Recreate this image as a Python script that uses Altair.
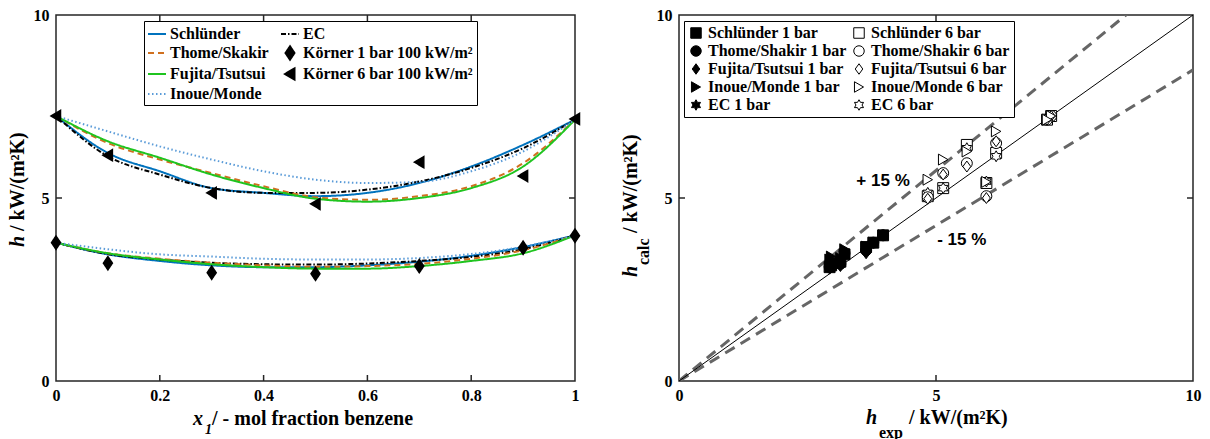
import altair as alt
import pandas as pd

# ---------------- left panel data ----------------
x_grid = [0.0, 0.1, 0.2, 0.3, 0.4, 0.5, 0.6, 0.7, 0.8, 0.9, 1.0]

schlunder_6 = [7.24, 6.23, 5.73, 5.27, 5.14, 5.05, 5.14, 5.41, 5.86, 6.45, 7.14]
ec_6 = [7.24, 6.14, 5.64, 5.27, 5.14, 5.14, 5.23, 5.45, 5.82, 6.36, 7.14]
thome_6 = [7.24, 6.50, 6.05, 5.68, 5.32, 5.02, 4.95, 5.05, 5.32, 5.95, 7.14]
fujita_6 = [7.24, 6.55, 6.10, 5.64, 5.27, 4.98, 4.90, 5.00, 5.27, 5.86, 7.14]
inoue_6 = [7.24, 6.82, 6.41, 6.05, 5.73, 5.50, 5.41, 5.44, 5.73, 6.27, 7.14]

schlunder_1 = [3.78, 3.46, 3.28, 3.16, 3.11, 3.11, 3.16, 3.26, 3.42, 3.66, 3.98]
ec_1 = [3.78, 3.47, 3.32, 3.23, 3.19, 3.18, 3.21, 3.28, 3.39, 3.60, 3.98]
thome_1 = [3.78, 3.49, 3.34, 3.23, 3.16, 3.12, 3.14, 3.20, 3.34, 3.57, 3.98]
fujita_1 = [3.78, 3.49, 3.32, 3.19, 3.11, 3.07, 3.07, 3.14, 3.28, 3.49, 3.98]
inoue_1 = [3.78, 3.60, 3.46, 3.40, 3.34, 3.32, 3.32, 3.36, 3.47, 3.67, 3.98]

korner_x = [0.0, 0.1, 0.3, 0.5, 0.7, 0.9, 1.0]
korner_1bar = [3.78, 3.22, 2.96, 2.93, 3.14, 3.64, 3.97]
korner_6bar = [7.24, 6.17, 5.14, 4.84, 5.98, 5.60, 7.16]

models = ["Schlünder", "EC", "Thome/Skakir", "Fujita/Tsutsui", "Inoue/Monde"]
models_right = ["Schlünder", "EC", "Thome/Shakir", "Fujita/Tsutsui", "Inoue/Monde"]
curves_1bar = [schlunder_1, ec_1, thome_1, fujita_1, inoue_1]
curves_6bar = [schlunder_6, ec_6, thome_6, fujita_6, inoue_6]

K1 = "Körner 1 bar 100 kW/m²"
K6 = "Körner 6 bar 100 kW/m²"

# right panel guide lines
diag_x = [0, 10]
diag_y = [0, 10]
plus_y = [0, 11.5]
minus_y = [0, 8.5]
annot_text = ["+ 15 %", "- 15 %"]
annot_x = [3.97, 5.50]
annot_y = [5.46, 3.85]

# ---------------- tables ----------------
rows = []
for m, c1, c6 in zip(models, curves_1bar, curves_6bar):
    for xv, hv in zip(x_grid, c1):
        rows.append({"x": xv, "h": hv, "series": m, "curve": m + " 1"})
    for xv, hv in zip(x_grid, c6):
        rows.append({"x": xv, "h": hv, "series": m, "curve": m + " 6"})
curves_df = pd.DataFrame(rows)

korner_df = pd.DataFrame(
    [{"x": xv, "h": hv, "series": K1} for xv, hv in zip(korner_x, korner_1bar)]
    + [{"x": xv, "h": hv, "series": K6} for xv, hv in zip(korner_x, korner_6bar)]
)

idx = [x_grid.index(v) for v in korner_x]
prow = []
for m, c1, c6 in zip(models_right, curves_1bar, curves_6bar):
    for i, e in zip(idx, korner_1bar):
        prow.append({"x": e, "h": c1[i], "pseries": m + " 1 bar"})
    for i, e in zip(idx, korner_6bar):
        prow.append({"x": e, "h": c6[i], "pseries": m + " 6 bar"})
points_df = pd.DataFrame(prow)

diag_df = pd.DataFrame({"x": diag_x, "h": diag_y})
dash_df = pd.DataFrame({
    "x": diag_x + diag_x,
    "h": plus_y + minus_y,
    "line": ["plus", "plus", "minus", "minus"],
})
annot_df = pd.DataFrame({"x": annot_x, "h": annot_y, "t": annot_text})

# ---------------- styles ----------------
W1, W2, H = 519, 514, 366
FRAME = "#262626"
SERIF = "Liberation Serif"

DIAMOND_L = "M0,-0.74L0.5,0L0,0.74L-0.5,0Z"
TRI_L = "M-0.55,0L0.5,-0.62L0.5,0.62Z"

leg_domain = ["Schlünder", "EC", "Thome/Skakir", K1, "Fujita/Tsutsui", K6, "Inoue/Monde"]
leg_stroke = ["#0072BD", "#000000", "#D0701F", "#000000", "#1FC41F", "#000000", "#5A9BD8"]
leg_dash = [[1, 0], [5, 2, 1.5, 2], [6, 4], [1, 0], [1, 0], [1, 0], [1.5, 2.5]]
leg_shape = ["stroke", "stroke", "stroke", DIAMOND_L, "stroke", TRI_L, "stroke"]
leg_fill = ["transparent", "transparent", "transparent", "#000000", "transparent", "#000000", "transparent"]

left_legend = alt.Legend(
    orient="none", legendX=88, legendY=6, columns=2, direction="horizontal", title=None,
    strokeColor="black", fillColor="white", padding=3,
    labelFont=SERIF, labelFontSize=16, labelFontWeight="bold", labelColor="black",
    symbolSize=324, symbolStrokeWidth=2, rowPadding=0, columnPadding=8,
    labelOffset=3, labelLimit=400, symbolOpacity=1,
)

HEX = ("M0,-1L0.289,-0.5L0.866,-0.5L0.577,0L0.866,0.5L0.289,0.5L0,1L-0.289,0.5"
       "L-0.866,0.5L-0.577,0L-0.866,-0.5L-0.289,-0.5Z")
DIAMOND_R = "M0,-1L0.72,0L0,1L-0.72,0Z"
right_domain = []
right_shape = []
right_fill = []
for m, shp in zip(["Schlünder", "Thome/Shakir", "Fujita/Tsutsui", "Inoue/Monde", "EC"],
                  ["square", "circle", DIAMOND_R, "triangle-right", HEX]):
    right_domain += [m + " 1 bar", m + " 6 bar"]
    right_shape += [shp, shp]
    right_fill += ["#000000", "#ffffff"]
right_stroke = ["#000000"] * len(right_domain)

right_legend = alt.Legend(
    orient="none", legendX=5, legendY=6, columns=2, direction="horizontal", title=None,
    strokeColor="black", fillColor="white", padding=4,
    labelFont=SERIF, labelFontSize=16, labelFontWeight="bold", labelColor="black",
    symbolSize=110, symbolStrokeWidth=1,
    rowPadding=2, columnPadding=4, labelOffset=4, labelLimit=400, symbolOpacity=1,
)


def xaxis(vals):
    return alt.Axis(values=vals, format="~r", title=None, labelPadding=6, labelFlush=False,
                    ticks=False, tickSize=0, domain=False, grid=False, labelOverlap=False)


def yaxis(vals):
    return alt.Axis(values=vals, format="~r", title=None, labelPadding=7, labelFlush=False,
                    ticks=False, tickSize=0, domain=False, grid=False, labelOverlap=False)


def text_piece(txt, x, y, size=20, italic=False, angle=0, align="left", font=SERIF):
    kw = dict(font=font, fontSize=size, fontWeight="bold", align=align,
              baseline="alphabetic", color="black")
    if italic:
        kw["fontStyle"] = "italic"
    if angle:
        kw["angle"] = angle
    return alt.Chart(pd.DataFrame({"t": [txt]})).mark_text(**kw).encode(
        x=alt.value(x), y=alt.value(y), text="t:N")


def ticks(xvals, yvals, xs, ys, W, xax, yax):
    tx = pd.DataFrame({"x": xvals})
    ty = pd.DataFrame({"h": yvals})
    r = dict(color=FRAME, strokeWidth=1.5)
    return [
        alt.Chart(tx).mark_rule(**r).encode(x=alt.X("x:Q", scale=xs, axis=xax), y=alt.value(H), y2=alt.value(H - 6)),
        alt.Chart(tx).mark_rule(**r).encode(x=alt.X("x:Q", scale=xs, axis=xax), y=alt.value(0), y2=alt.value(6)),
        alt.Chart(ty).mark_rule(**r).encode(y=alt.Y("h:Q", scale=ys, axis=yax), x=alt.value(0), x2=alt.value(6)),
        alt.Chart(ty).mark_rule(**r).encode(y=alt.Y("h:Q", scale=ys, axis=yax), x=alt.value(W), x2=alt.value(W - 6)),
    ]


# ---------------- left panel ----------------
xs_l = alt.Scale(domain=[0, 1], nice=False, zero=False)
ys = alt.Scale(domain=[0, 10], nice=False)
xax_l = xaxis([0, 0.2, 0.4, 0.6, 0.8, 1])
yax_l = yaxis([0, 5, 10])

stroke_scale = alt.Scale(domain=leg_domain, range=leg_stroke)
dash_scale = alt.Scale(domain=leg_domain, range=leg_dash)
shape_scale = alt.Scale(domain=leg_domain, range=leg_shape)
fill_scale = alt.Scale(domain=leg_domain, range=leg_fill)

lines = alt.Chart(curves_df).mark_line(strokeWidth=2, interpolate="monotone").encode(
    x=alt.X("x:Q", scale=xs_l, axis=xax_l),
    y=alt.Y("h:Q", scale=ys, axis=yax_l),
    stroke=alt.Stroke("series:N", scale=stroke_scale, legend=left_legend),
    strokeDash=alt.StrokeDash("series:N", scale=dash_scale, legend=left_legend),
    detail="curve:N",
)

korner = alt.Chart(korner_df).mark_point(size=324, opacity=1, fillOpacity=1, strokeWidth=1.5).encode(
    x=alt.X("x:Q", scale=xs_l, axis=xax_l),
    y=alt.Y("h:Q", scale=ys, axis=yax_l),
    shape=alt.Shape("series:N", scale=shape_scale, legend=left_legend),
    stroke=alt.Stroke("series:N", scale=stroke_scale, legend=left_legend),
    fill=alt.Fill("series:N", scale=fill_scale, legend=left_legend),
    strokeDash=alt.StrokeDash("series:N", scale=dash_scale, legend=left_legend),
)

anchor = alt.Chart(pd.DataFrame({"a": [0]})).mark_rule(opacity=0, strokeOpacity=0).encode(
    x=alt.value(-55), x2=alt.value(-54), y=alt.value(-14), y2=alt.value(-13))

left_titles = [
    text_piece("x", 147, 410, italic=True, align="right"),
    text_piece("1", 149, 419, size=14, italic=True),
    text_piece("/ - mol fraction benzene", 156, 410),
    text_piece("h", -32, 232, italic=True, angle=270),
    text_piece("/ kW/(m²K)", -32, 216, angle=270),
]

left = alt.layer(
    lines, korner, *ticks([0.2, 0.4, 0.6, 0.8], [5], xs_l, ys, W1, xax_l, yax_l), anchor, *left_titles
).properties(width=W1, height=H)

# ---------------- right panel ----------------
xs_r = alt.Scale(domain=[0, 10], nice=False)
ys_r = alt.Scale(domain=[0, 10], nice=False)
xax_r = xaxis([0, 5, 10])
yax_r = yaxis([0, 5, 10])

diag = alt.Chart(diag_df).mark_line(color="black", strokeWidth=1).encode(
    x=alt.X("x:Q", scale=xs_r, axis=xax_r),
    y=alt.Y("h:Q", scale=ys_r, axis=yax_r),
)
dashes = alt.Chart(dash_df).mark_line(color="#666666", strokeWidth=3, strokeDash=[11, 7], clip=True).encode(
    x=alt.X("x:Q", scale=xs_r, axis=xax_r), y=alt.Y("h:Q", scale=ys_r, axis=yax_r), detail="line:N")

pts = alt.Chart(points_df).mark_point(size=120, opacity=1, fillOpacity=1, strokeWidth=1).encode(
    x=alt.X("x:Q", scale=xs_r, axis=xax_r),
    y=alt.Y("h:Q", scale=ys_r, axis=yax_r),
    shape=alt.Shape("pseries:N", scale=alt.Scale(domain=right_domain, range=right_shape), legend=right_legend),
    fill=alt.Fill("pseries:N", scale=alt.Scale(domain=right_domain, range=right_fill), legend=right_legend),
    stroke=alt.Stroke("pseries:N", scale=alt.Scale(domain=right_domain, range=right_stroke), legend=right_legend),
)

annots = alt.Chart(annot_df).mark_text(font="Liberation Sans", fontSize=17, fontWeight="bold",
                                       color="black", align="center", baseline="middle").encode(
    x=alt.X("x:Q", scale=xs_r, axis=xax_r), y=alt.Y("h:Q", scale=ys_r, axis=yax_r), text="t:N")

right_titles = [
    text_piece("h", 198, 409, italic=True, align="right"),
    text_piece("exp", 200, 423, size=16),
    text_piece("/ kW/(m²K)", 230, 409),
    text_piece("h", -42, 262, italic=True, angle=270),
    text_piece("calc", -30, 250, size=16, angle=270),
    text_piece("/ kW/(m²K)", -42, 218, angle=270),
]

right = alt.layer(
    dashes, diag, pts, annots, *ticks([5], [5], xs_r, ys_r, W2, xax_r, yax_r), *right_titles
).properties(width=W2, height=H)

chart = alt.hconcat(left, right, spacing=104, bounds="flush").resolve_scale(
    shape="independent", fill="independent", stroke="independent", strokeDash="independent",
    x="independent", y="independent",
).resolve_legend(
    shape="independent", fill="independent", stroke="independent", strokeDash="independent",
).properties(
    padding=0
).configure_view(
    stroke=FRAME, strokeWidth=1.5
).configure_axis(
    labelFont=SERIF, labelFontSize=16, labelFontWeight="bold", labelColor="black"
)

chart.save("out.html", embed_options={"renderer": "svg", "actions": False})
